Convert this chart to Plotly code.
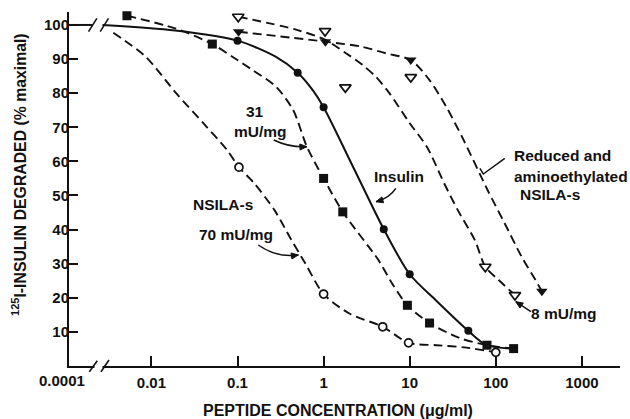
import math
import plotly.graph_objects as go

# ---------------- data (concentration in ug/ml, % of maximal degradation) ----------------
control_y = 100.0  # zero-concentration reference level (left of the axis break)

insulin_x = [0.1, 0.5, 1.0, 5.0, 10.0, 48.0]
insulin_y = [95.4, 86.0, 75.9, 40.1, 26.9, 10.3]
insulin_curve_x = [0.0027, 0.0189, 0.1, 0.277, 0.5, 0.748, 1.0, 2.24, 5.0, 10.0, 20.1, 48.0, 78.3, 161.0]
insulin_curve_y = [100.0, 98.4, 95.4, 90.7, 86.0, 80.9, 75.9, 58.0, 40.1, 26.9, 19.3, 10.3, 6.1, 5.1]

nsila31_x = [0.0052, 0.051, 1.0, 1.67, 9.4, 17.0, 79.0, 161.0]
nsila31_y = [102.7, 94.4, 55.0, 45.2, 17.8, 12.6, 6.1, 5.1]
nsila31_curve_x = [0.0052, 0.0189, 0.051, 0.0871, 0.149, 0.280, 0.442, 0.640, 1.0, 1.67,
                   4.35, 6.25, 9.4, 17.0, 38.0, 79.0, 161.0]
nsila31_curve_y = [102.7, 99.0, 94.4, 90.7, 86.8, 81.9, 75.1, 64.3, 55.0, 45.2,
                   31.0, 24.2, 17.8, 12.6, 8.2, 6.1, 5.1]

nsila70_x = [0.104, 1.0, 4.86, 9.7, 100.0]
nsila70_y = [58.3, 21.1, 11.5, 6.8, 4.0]
nsila70_curve_x = [0.00361, 0.00857, 0.01936, 0.0401, 0.0753, 0.104, 0.156, 0.269, 0.424, 0.612,
                   1.0, 1.99, 4.86, 9.7, 20.4, 45.6, 100.0]
nsila70_curve_y = [97.7, 90.7, 80.0, 71.2, 63.4, 58.3, 53.6, 45.7, 36.9, 30.1,
                   21.1, 15.4, 11.5, 6.8, 6.1, 5.4, 4.0]

red8_x = [0.102, 1.04, 1.79, 10.3, 75.5, 167.0]
red8_y = [102.4, 98.2, 81.7, 84.7, 29.1, 20.8]
red8_curve_x = [0.102, 0.468, 1.05, 1.80, 2.82, 4.05, 5.81, 10.0, 15.8, 25.1, 36.2, 57.1, 75.5, 108.0, 167.0]
red8_curve_y = [102.4, 98.7, 95.6, 91.8, 88.3, 84.8, 80.0, 71.2, 64.3, 53.6, 45.7, 36.9, 29.1, 25.2, 20.8]

redae_x = [0.103, 1.05, 10.3, 343.0]
redae_y = [98.0, 95.1, 89.7, 21.9]
redae_curve_x = [0.103, 1.05, 2.81, 5.25, 10.3, 16.9, 26.6, 42.2, 80.2, 127.0, 200.0, 289.0, 343.0]
redae_curve_y = [98.0, 95.1, 93.6, 91.7, 89.7, 83.9, 76.0, 66.3, 51.6, 41.8, 32.0, 25.2, 21.9]

x_tickvals = [0.01, 0.1, 1, 10, 100, 1000]
x_ticktext = ["0.01", "0.1", "1", "10", "100", "1000"]
x_break_label = "0.0001"
y_tickvals = [10, 20, 30, 40, 50, 60, 70, 80, 90, 100]

# ---------------- layout geometry ----------------
W, H = 630, 419
ML, MR, MT, MB = 69, 10, 12, 53
PW, PH = W - ML - MR, H - MT - MB
L0 = -2.957
L1 = L0 + PW / 86.1
YMAX = 103.8
FONT = "Liberation Sans, Arial, Helvetica, sans-serif"
INK = "#111111"


def X(p):  # pixel -> paper
    return (p - ML) / PW


def Y(p):
    return (MT + PH - p) / PH


fig = go.Figure()

dash = "9px,5px"
curve_specs = [
    (nsila70_curve_x, nsila70_curve_y, dash, 1.9),
    (nsila31_curve_x, nsila31_curve_y, dash, 1.9),
    (red8_curve_x, red8_curve_y, dash, 1.9),
    (redae_curve_x, redae_curve_y, dash, 1.9),
    (insulin_curve_x, insulin_curve_y, "solid", 2.0),
]
for cx, cy, d, w in curve_specs:
    fig.add_trace(go.Scatter(x=cx, y=cy, mode="lines",
                             line=dict(color=INK, width=w, dash=d, shape="spline", smoothing=0.8),
                             hoverinfo="skip"))

# control line at 100 % between the y axis and the break
fig.add_trace(go.Scatter(x=[10 ** L0, 10 ** (L0 + 0.27)], y=[control_y, control_y], mode="lines",
                         line=dict(color=INK, width=2), hoverinfo="skip"))

marker_specs = [
    (nsila70_x, nsila70_y, "circle", 8, "white", 1.7),
    (nsila31_x, nsila31_y, "square", 9, INK, 0),
    (insulin_x, insulin_y, "circle", 8, INK, 0),
    (red8_x, red8_y, "triangle-down", 10, "white", 1.7),
    (redae_x, redae_y, "triangle-down", 10, INK, 0),
]
for mx, my, sym, sz, fill, lw in marker_specs:
    fig.add_trace(go.Scatter(x=mx, y=my, mode="markers",
                             marker=dict(symbol=sym, size=sz, color=fill,
                                         line=dict(color=INK, width=lw)),
                             cliponaxis=False, hoverinfo="skip"))

fig.update_layout(
    width=W, height=H, margin=dict(l=ML, r=MR, t=MT, b=MB),
    paper_bgcolor="white", plot_bgcolor="white", showlegend=False,
    font=dict(family=FONT, color=INK),
    xaxis=dict(type="log", range=[L0, L1], showline=True, linewidth=2, linecolor=INK,
               ticks="inside", ticklen=10, tickwidth=1.5, tickcolor=INK,
               tickvals=x_tickvals, ticktext=x_ticktext, showgrid=False, zeroline=False,
               tickfont=dict(size=15, family=FONT, color=INK, weight="bold"), ticklabelstandoff=2),
    yaxis=dict(range=[0, YMAX], showline=True, linewidth=2, linecolor=INK,
               ticks="inside", ticklen=9, tickwidth=1.5, tickcolor=INK,
               tickvals=y_tickvals, showgrid=False, zeroline=False,
               tickfont=dict(size=15, family=FONT, color=INK, weight="bold"), ticklabelstandoff=-5),
)

# ---------------- axis breaks and pointer arrows ----------------
shapes = []
shapes.append(dict(type="rect", xref="paper", yref="paper", x0=X(94.5), x1=X(102.5), y0=Y(370), y1=Y(362),
                   line=dict(width=0), fillcolor="white", layer="above"))
for (x0, y0, x1, y1) in [(89.3, 371.7, 97.3, 360.7), (101.0, 371.7, 109.0, 360.0),
                         (88.5, 31.7, 96.9, 18.3), (100.2, 31.7, 108.5, 18.3)]:
    shapes.append(dict(type="line", xref="paper", yref="paper", x0=X(x0), y0=Y(y0), x1=X(x1), y1=Y(y1),
                       line=dict(color=INK, width=1.6), layer="above"))


def qpath(p0, c, p1):
    return "M {} {} Q {} {} {} {}".format(X(p0[0]), Y(p0[1]), X(c[0]), Y(c[1]), X(p1[0]), Y(p1[1]))


def head(tip, frm, length=7.0, half=3.0):
    dx, dy = tip[0] - frm[0], tip[1] - frm[1]
    n = math.hypot(dx, dy)
    ux, uy = dx / n, dy / n
    bx, by = tip[0] - ux * length, tip[1] - uy * length
    px_, py_ = -uy * half, ux * half
    return "M {} {} L {} {} L {} {} Z".format(X(tip[0]), Y(tip[1]), X(bx + px_), Y(by + py_),
                                               X(bx - px_), Y(by - py_))


for p in [qpath((273.8, 140.0), (288.9, 147.5), (306.9, 146.7)),
          qpath((258.3, 245.0), (276.5, 258.0), (298.4, 255.0)),
          qpath((395.8, 188.3), (389.6, 198.0), (376.0, 201.7)),
          "M {} {} L {} {} L {} {}".format(X(504.8), Y(158.3), X(483.3), Y(174.0), X(479.9), Y(168.3)),
          "M {} {} L {} {}".format(X(530.9), Y(311.7), X(515.8), Y(301.7))]:
    shapes.append(dict(type="path", xref="paper", yref="paper", path=p,
                       line=dict(color=INK, width=1.5), layer="above"))
for tip, frm in [((306.9, 146.7), (288.9, 147.5)), ((298.4, 255.0), (276.5, 258.0)),
                 ((376.0, 201.7), (389.6, 198.0)), ((515.8, 301.7), (530.9, 311.7))]:
    shapes.append(dict(type="path", xref="paper", yref="paper", path=head(tip, frm),
                       line=dict(color=INK, width=1), fillcolor=INK, layer="above"))
fig.update_layout(shapes=shapes)

# ---------------- texts ----------------
ann = []


def txt(s, x, y, xa="center", size=15.5, angle=0):
    ann.append(dict(text=s, x=X(x), y=Y(y), xref="paper", yref="paper", xanchor=xa, yanchor="middle",
                    showarrow=False, textangle=angle,
                    font=dict(size=size, family=FONT, color=INK, weight="bold")))


txt("31", 254.5, 111)
txt("mU/mg", 260.7, 131)
txt("NSILA-s", 223.2, 204.5)
txt("70 mU/mg", 235.6, 234.5)
txt("Insulin", 399.3, 176.7)
txt("Reduced and", 512, 155, xa="left")
txt("aminoethylated", 512.3, 176.7, xa="left")
txt("NSILA-s", 517.6, 195, xa="left")
txt("8 mU/mg", 529.3, 313.3, xa="left")
txt(x_break_label, 61.5, 381, size=15)
txt("PEPTIDE CONCENTRATION (\u03bcg/ml)", 337.5, 410, size=16)
txt("<sup>125</sup>I-INSULIN DEGRADED (% maximal)", 19, 175, size=15.8, angle=-90)
fig.update_layout(annotations=ann)

fig.write_html("out.html", config={"displayModeBar": False},
               post_script="document.body.style.margin='0px';")
